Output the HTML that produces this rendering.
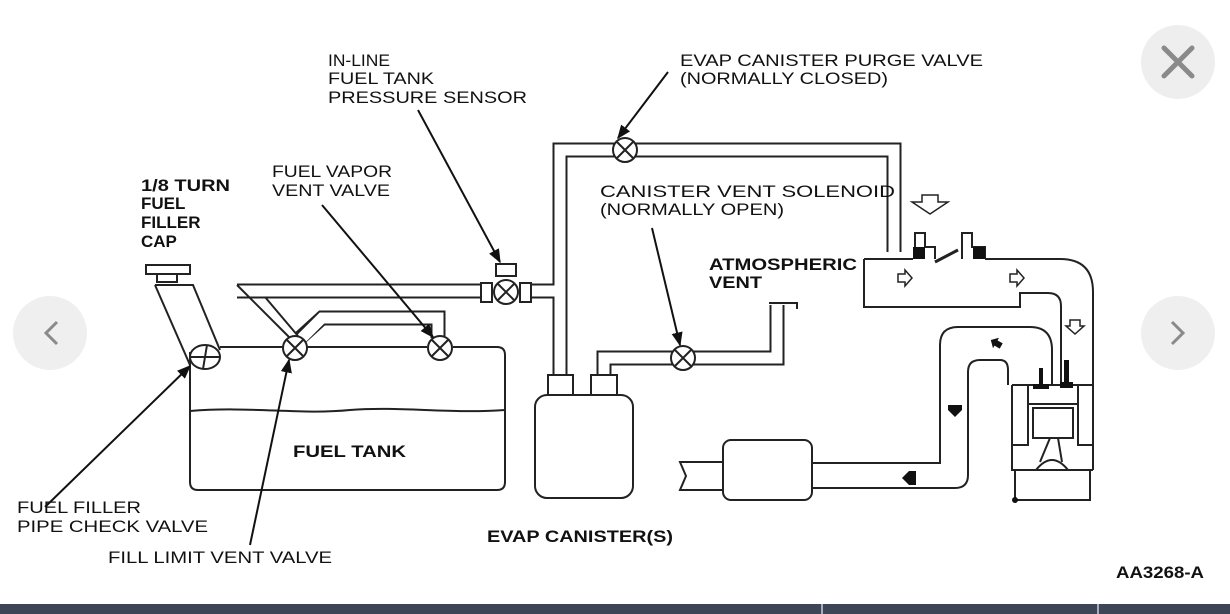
<!DOCTYPE html>
<html><head><meta charset="utf-8"><style>
html,body{margin:0;padding:0;background:#fff;width:1230px;height:614px;overflow:hidden}
svg{display:block}
text{font-family:"Liberation Sans",Arial,sans-serif;font-size:17px;fill:#111}
.b{font-weight:bold}
</style></head><body>
<svg width="1230" height="614" viewBox="0 0 1230 614" xmlns="http://www.w3.org/2000/svg">
<defs>
<marker id="ar" viewBox="0 0 10 10" refX="9" refY="5" markerWidth="7" markerHeight="7" orient="auto"><path d="M0,1 L10,5 L0,9 z" fill="#111"/></marker>
</defs>
<rect width="1230" height="614" fill="#fff"/>
<circle cx="1178" cy="62" r="37" fill="#eeeeee"/>
<path d="M1164,48 L1192,76 M1192,48 L1164,76" stroke="#8a8a8a" stroke-width="5" stroke-linecap="round"/>
<circle cx="50" cy="333" r="37" fill="#efefef"/>
<path d="M57,322 L46,333 L57,344" stroke="#8a8a8a" stroke-width="3" fill="none"/>
<circle cx="1178" cy="333" r="37" fill="#efefef"/>
<path d="M1172,322 L1183,333 L1172,344" stroke="#8a8a8a" stroke-width="3" fill="none"/>
<rect x="0" y="604" width="1230" height="10" fill="#3c4654"/>
<rect x="821" y="604" width="2" height="10" fill="#aab"/>
<rect x="1097" y="604" width="2" height="10" fill="#aab"/>

<g fill="none" stroke="#222" stroke-width="2">
<g stroke-width="15" stroke="#222" stroke-linejoin="miter">
<path d="M237,291 L480,291"/>
<path d="M531,291 L560,291 L560,150 L894,150 L894,252"/>
<path d="M560,150 L560,378"/>
<path d="M604,378 L604,358 L777,358 L777,305"/>
<path d="M300,338 L322,318 L438,318 L438,338"/>
</g>
<g stroke-width="11" stroke="#fff">
<path d="M237,291 L480,291"/>
<path d="M531,291 L560,291 L560,150 L894,150 L894,254"/>
<path d="M560,150 L560,380"/>
<path d="M604,380 L604,358 L777,358 L777,303"/>
<path d="M300,340 L322,318 L438,318 L438,340"/>
</g>
<path d="M237,285 L292,340"/>
<path d="M265,297 L298,336"/>
<rect x="146" y="265" width="44" height="9"/>
<rect x="157" y="274" width="20" height="8"/>
<path d="M155,285 L193,285 L220,350 M155,285 L190,365"/>
<path d="M190,352 L190,482 Q190,490 198,490 L497,490 Q505,490 505,482 L505,355 Q505,347 497,347 L453,347 M427,347 L307,347 M283,347 L220,347"/>
<path d="M190,411 C250,406 300,415 350,410 C400,406 450,414 505,410"/>
<ellipse cx="205" cy="357" rx="15" ry="12" fill="#fff"/>
<path d="M190,357 L220,357 M207,345 L203,369"/>
<g fill="#fff">
<circle cx="295" cy="348" r="12"/><circle cx="440" cy="348" r="12"/>
<circle cx="625" cy="150" r="12"/><circle cx="683" cy="358" r="12"/>
<circle cx="506" cy="292" r="12"/>
<rect x="481" y="283" width="11" height="19"/><rect x="520" y="283" width="11" height="19"/>
<rect x="496" y="264" width="20" height="12"/>
</g>
<path d="M287,340 L303,356 M303,340 L287,356 M432,340 L448,356 M448,340 L432,356 M617,142 L633,158 M633,142 L617,158 M675,350 L691,366 M691,350 L675,366 M498,284 L514,300 M514,284 L498,300"/>
<rect x="535" y="395" width="98" height="103" rx="12" fill="#fff"/>
<rect x="548" y="375" width="25" height="20" fill="#fff"/>
<rect x="591" y="375" width="26" height="20" fill="#fff"/>
<path d="M769,303 L797,303 L797,309"/>
<path d="M723,462 L680,462 L686,476 L680,490 L723,490"/>
<rect x="723" y="440" width="89" height="60" rx="8" fill="#fff"/>
<path d="M812,463 L940,463 L940,345 Q940,327 958,327 L1030,327 Q1052,327 1052,350 L1052,385"/>
<path d="M812,488 L955,488 Q968,488 968,475 L968,372 Q968,360 980,360 L1000,360 Q1008,360 1008,370 L1008,385"/>
<path d="M864,259 L913,259 M985,259 L1060,259 Q1093,259 1093,292 L1093,470"/>
<path d="M864,259 L864,307 L1020,307 L1020,293 L1048,293 Q1061,293 1061,306 L1061,385"/>
<path d="M915,259 L915,233 L925,233 L925,247 L935,247 L935,259 M962,259 L962,233 L972,233 L972,247 L985,247 L985,259"/>
<path d="M935,262 L958,250" stroke-width="3"/>
<path d="M1012,385 L1093,385 M1012,385 L1012,470 L1093,470 M1028,385 L1028,445 L1012,445 M1078,385 L1078,445 L1093,445 M1028,404 L1078,404"/>
<rect x="1033" y="408" width="40" height="30" fill="#fff"/>
<path d="M1050,438 L1040,462 M1058,438 L1062,462 M1036,470 Q1052,450 1068,470"/>
<path d="M1015,470 L1015,500 L1090,500 L1090,470"/>
</g>
<circle cx="1015" cy="500" r="3" fill="#111"/>
<g fill="#111">
<rect x="913" y="247" width="12" height="12"/><rect x="973" y="247" width="12" height="12"/>
<rect x="1039" y="368" width="4" height="20"/><rect x="1033" y="384" width="16" height="5"/>
<rect x="1064" y="360" width="5" height="24"/><rect x="1060" y="382" width="13" height="6"/>
<path d="M990,343 l6,-6 l6,6 l-3,0 l0,6 l-6,0 l0,-6z" transform="rotate(-60 996 343)"/>
<path d="M948,405 l14,0 l0,5 l-7,7 l-7,-7z"/>
<path d="M902,478 l7,-7 l7,0 l0,14 l-7,0z"/>
</g>
<g fill="#fff" stroke="#222" stroke-width="1.5">
<path d="M922,195 L938,195 L938,202 L948,202 L930,214 L912,202 L922,202z"/>
<path d="M898,274 L905,274 L905,270 L912,278 L905,286 L905,282 L898,282z"/>
<path d="M1010,274 L1017,274 L1017,270 L1024,278 L1017,286 L1017,282 L1010,282z"/>
<path d="M1070,320 L1070,326 L1066,326 L1075,334 L1084,326 L1080,326 L1080,320z"/>
</g>
<g stroke="#111" stroke-width="2" fill="none" marker-end="url(#ar)">
<path d="M418,110 L500,262"/>
<path d="M668,72 L618,138"/>
<path d="M322,205 L433,337"/>
<path d="M652,228 L680,345"/>
<path d="M45,507 L190,366"/>
<path d="M250,545 L289,360"/>
</g>
<text x="328" y="66" textLength="62" lengthAdjust="spacingAndGlyphs">IN-LINE</text>
<text x="328" y="84" textLength="106" lengthAdjust="spacingAndGlyphs">FUEL TANK</text>
<text x="328" y="103" textLength="199" lengthAdjust="spacingAndGlyphs">PRESSURE SENSOR</text>
<text x="680" y="66" textLength="303" lengthAdjust="spacingAndGlyphs">EVAP CANISTER PURGE VALVE</text>
<text x="680" y="84" textLength="208" lengthAdjust="spacingAndGlyphs">(NORMALLY CLOSED)</text>
<text class="b" x="141" y="191" textLength="89" lengthAdjust="spacingAndGlyphs">1/8 TURN</text>
<text class="b" x="141" y="209">FUEL</text>
<text class="b" x="141" y="228">FILLER</text>
<text class="b" x="141" y="247">CAP</text>
<text x="272" y="177" textLength="120" lengthAdjust="spacingAndGlyphs">FUEL VAPOR</text>
<text x="272" y="196" textLength="118" lengthAdjust="spacingAndGlyphs">VENT VALVE</text>
<text x="600" y="197" textLength="295" lengthAdjust="spacingAndGlyphs">CANISTER VENT SOLENOID</text>
<text x="600" y="215" textLength="184" lengthAdjust="spacingAndGlyphs">(NORMALLY OPEN)</text>
<text class="b" x="709" y="270" textLength="148" lengthAdjust="spacingAndGlyphs">ATMOSPHERIC</text>
<text class="b" x="709" y="288" textLength="53" lengthAdjust="spacingAndGlyphs">VENT</text>
<text class="b" x="293" y="457" textLength="113" lengthAdjust="spacingAndGlyphs">FUEL TANK</text>
<text x="17" y="513" textLength="124" lengthAdjust="spacingAndGlyphs">FUEL FILLER</text>
<text x="17" y="532" textLength="191" lengthAdjust="spacingAndGlyphs">PIPE CHECK VALVE</text>
<text x="108" y="563" textLength="224" lengthAdjust="spacingAndGlyphs">FILL LIMIT VENT VALVE</text>
<text class="b" x="487" y="542" textLength="186" lengthAdjust="spacingAndGlyphs">EVAP CANISTER(S)</text>
<text class="b" x="1116" y="578" textLength="88" lengthAdjust="spacingAndGlyphs">AA3268-A</text>
</svg>
</body></html>
